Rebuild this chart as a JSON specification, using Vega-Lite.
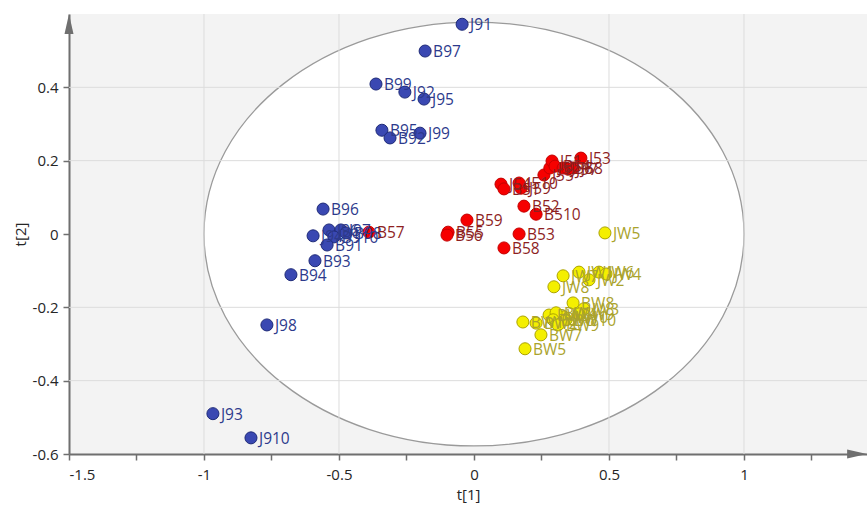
{
  "$schema": "https://vega.github.io/schema/vega-lite/v6.json",
  "width": 798,
  "height": 440,
  "autosize": "none",
  "padding": {"left": 69, "top": 14, "right": 0, "bottom": 51},
  "background": "white",
  "config": {
    "view": {"fill": "#f3f3f3", "stroke": null},
    "font": "Open Sans",
    "axis": {
      "grid": false,
      "domainColor": "#6f6f6f",
      "domainWidth": 2,
      "tickColor": "#6f6f6f",
      "tickWidth": 1.5,
      "tickSize": 6,
      "labelColor": "#262626",
      "labelFont": "Open Sans",
      "labelFontSize": 15,
      "titleFont": "Open Sans",
      "titleFontSize": 15,
      "titleFontWeight": "normal",
      "titleColor": "#262626"
    }
  },
  "datasets": {
    "scores": [
      {"name": "J91", "cls": "9", "t1": -0.044, "t2": 0.572},
      {"name": "B97", "cls": "9", "t1": -0.181, "t2": 0.499},
      {"name": "B99", "cls": "9", "t1": -0.363, "t2": 0.409},
      {"name": "J92", "cls": "9", "t1": -0.256, "t2": 0.387},
      {"name": "J95", "cls": "9", "t1": -0.185, "t2": 0.368},
      {"name": "B95", "cls": "9", "t1": -0.341, "t2": 0.283},
      {"name": "J99", "cls": "9", "t1": -0.2, "t2": 0.275},
      {"name": "B92", "cls": "9", "t1": -0.311, "t2": 0.262},
      {"name": "B96", "cls": "9", "t1": -0.559, "t2": 0.068},
      {"name": "J94", "cls": "9", "t1": -0.596, "t2": -0.005},
      {"name": "J96", "cls": "9", "t1": -0.537, "t2": 0.011},
      {"name": "J97", "cls": "9", "t1": -0.493, "t2": 0.011},
      {"name": "B910", "cls": "9", "t1": -0.519, "t2": -0.008},
      {"name": "B98", "cls": "9", "t1": -0.474, "t2": 0.003},
      {"name": "B91", "cls": "9", "t1": -0.544, "t2": -0.03},
      {"name": "B93", "cls": "9", "t1": -0.589, "t2": -0.073},
      {"name": "B94", "cls": "9", "t1": -0.678, "t2": -0.111},
      {"name": "J98", "cls": "9", "t1": -0.767, "t2": -0.248},
      {"name": "J93", "cls": "9", "t1": -0.967, "t2": -0.49},
      {"name": "J910", "cls": "9", "t1": -0.826, "t2": -0.556},
      {"name": "B57", "cls": "5", "t1": -0.389, "t2": 0.005},
      {"name": "B59", "cls": "5", "t1": -0.026, "t2": 0.038},
      {"name": "B55", "cls": "5", "t1": -0.096, "t2": 0.005},
      {"name": "B56", "cls": "5", "t1": -0.1, "t2": -0.003},
      {"name": "B53", "cls": "5", "t1": 0.167, "t2": 0.0},
      {"name": "B58", "cls": "5", "t1": 0.111, "t2": -0.038},
      {"name": "B52", "cls": "5", "t1": 0.185, "t2": 0.076},
      {"name": "B510", "cls": "5", "t1": 0.23, "t2": 0.054},
      {"name": "J54", "cls": "5", "t1": 0.1, "t2": 0.136},
      {"name": "B51", "cls": "5", "t1": 0.111, "t2": 0.123},
      {"name": "J59", "cls": "5", "t1": 0.174, "t2": 0.125},
      {"name": "J510", "cls": "5", "t1": 0.167, "t2": 0.139},
      {"name": "J55", "cls": "5", "t1": 0.259, "t2": 0.161},
      {"name": "J52", "cls": "5", "t1": 0.281, "t2": 0.18},
      {"name": "J51", "cls": "5", "t1": 0.289, "t2": 0.199},
      {"name": "B54", "cls": "5", "t1": 0.3, "t2": 0.185},
      {"name": "J56", "cls": "5", "t1": 0.33, "t2": 0.18},
      {"name": "J57", "cls": "5", "t1": 0.348, "t2": 0.177},
      {"name": "J58", "cls": "5", "t1": 0.367, "t2": 0.18},
      {"name": "J53", "cls": "5", "t1": 0.396, "t2": 0.207},
      {"name": "JW5", "cls": "W", "t1": 0.485, "t2": 0.003},
      {"name": "JW7", "cls": "W", "t1": 0.33, "t2": -0.114},
      {"name": "JW1", "cls": "W", "t1": 0.389, "t2": -0.104},
      {"name": "JW2", "cls": "W", "t1": 0.426, "t2": -0.125},
      {"name": "JW6", "cls": "W", "t1": 0.463, "t2": -0.104},
      {"name": "JW4", "cls": "W", "t1": 0.489, "t2": -0.109},
      {"name": "JW8", "cls": "W", "t1": 0.296, "t2": -0.144},
      {"name": "BW8", "cls": "W", "t1": 0.367, "t2": -0.188},
      {"name": "JW3", "cls": "W", "t1": 0.407, "t2": -0.204},
      {"name": "JW9", "cls": "W", "t1": 0.389, "t2": -0.218},
      {"name": "JW10", "cls": "W", "t1": 0.333, "t2": -0.226},
      {"name": "BW1", "cls": "W", "t1": 0.181, "t2": -0.24},
      {"name": "BW2", "cls": "W", "t1": 0.23, "t2": -0.243},
      {"name": "BW3", "cls": "W", "t1": 0.278, "t2": -0.221},
      {"name": "BW4", "cls": "W", "t1": 0.304, "t2": -0.215},
      {"name": "BW6", "cls": "W", "t1": 0.293, "t2": -0.234},
      {"name": "BW10", "cls": "W", "t1": 0.341, "t2": -0.234},
      {"name": "BW9", "cls": "W", "t1": 0.311, "t2": -0.248},
      {"name": "BW7", "cls": "W", "t1": 0.248, "t2": -0.275},
      {"name": "BW5", "cls": "W", "t1": 0.189, "t2": -0.313}
    ]
  },
  "layer": [
    {
      "description": "Hotelling T2 confidence ellipse centred on the origin, white inside the grey plot area",
      "data": {"values": [{"cx": 0, "cy": 0}]},
      "mark": {
        "type": "point",
        "shape": "M-1,0C-1,-0.4335,-0.5523,-0.785,0,-0.785C0.5523,-0.785,1,-0.4335,1,0C1,0.4335,0.5523,0.785,0,0.785C-0.5523,0.785,-1,0.4335,-1,0Z",
        "size": 291600,
        "filled": false,
        "fill": "white",
        "fillOpacity": 1,
        "stroke": "#9a9a9a",
        "strokeWidth": 1.3,
        "opacity": 1
      },
      "encoding": {
        "x": {"field": "cx", "type": "quantitative"},
        "y": {"field": "cy", "type": "quantitative"}
      }
    },
    {
      "description": "vertical grid lines",
      "data": {"values": [{"g": -1}, {"g": -0.5}, {"g": 0.5}, {"g": 1}]},
      "mark": {"type": "rule", "color": "#dcdcdc", "strokeWidth": 1},
      "encoding": {"x": {"field": "g", "type": "quantitative"}}
    },
    {
      "description": "horizontal grid lines",
      "data": {"values": [{"g": 0.4}, {"g": 0.2}, {"g": -0.2}, {"g": -0.4}]},
      "mark": {"type": "rule", "color": "#dcdcdc", "strokeWidth": 1},
      "encoding": {"y": {"field": "g", "type": "quantitative"}}
    },
    {
      "mark": {"type": "rule", "color": "#7d7d7d", "strokeWidth": 1.5},
      "encoding": {"x": {"datum": 0, "type": "quantitative"}}
    },
    {
      "mark": {"type": "rule", "color": "#7d7d7d", "strokeWidth": 1.5},
      "encoding": {"y": {"datum": 0, "type": "quantitative"}}
    },
    {
      "data": {"name": "scores"},
      "mark": {"type": "point", "shape": "circle", "filled": true, "size": 145, "strokeWidth": 1, "opacity": 1},
      "encoding": {
        "x": {
          "field": "t1",
          "type": "quantitative",
          "scale": {"domain": [-1.5, 1.4556], "nice": false, "zero": false},
          "axis": {
            "title": "t[1]",
            "values": [-1.5, -1.25, -1, -0.75, -0.5, -0.25, 0, 0.25, 0.5, 0.75, 1, 1.25],
            "labelExpr": "round(datum.value * 4) % 2 == 0 ? '' + datum.value : ''",
            "labelPadding": 7,
            "titlePadding": 5
          }
        },
        "y": {
          "field": "t2",
          "type": "quantitative",
          "scale": {"domain": [-0.6, 0.6], "nice": false, "zero": false},
          "axis": {
            "title": "t[2]",
            "values": [-0.6, -0.5, -0.4, -0.3, -0.2, -0.1, 0, 0.1, 0.2, 0.3, 0.4, 0.5],
            "labelExpr": "round(datum.value * 10) % 2 == 0 ? '' + datum.value : ''",
            "labelPadding": 5,
            "titlePadding": 4
          }
        },
        "fill": {
          "field": "cls",
          "type": "nominal",
          "scale": {"domain": ["9", "5", "W"], "range": ["#3a48b2", "#f60000", "#f4ef00"]},
          "legend": null
        },
        "stroke": {
          "field": "cls",
          "type": "nominal",
          "scale": {"domain": ["9", "5", "W"], "range": ["#1e2a78", "#c40000", "#aca400"]},
          "legend": null
        }
      }
    },
    {
      "data": {"name": "scores"},
      "mark": {"type": "text", "align": "left", "baseline": "middle", "dx": 8, "dy": 1, "fontSize": 15.5, "font": "Open Sans"},
      "encoding": {
        "x": {"field": "t1", "type": "quantitative"},
        "y": {"field": "t2", "type": "quantitative"},
        "text": {"field": "name"},
        "color": {
          "field": "cls",
          "type": "nominal",
          "scale": {"domain": ["9", "5", "W"], "range": ["#2d3a8c", "#8e1f1f", "#aaa32c"]},
          "legend": null
        }
      }
    },
    {
      "description": "arrow heads at the ends of the t[2] and t[1] axes",
      "data": {"values": [
        {"ax": -1.5, "ay": 0.573, "dir": "up"},
        {"ax": 1.419, "ay": -0.6, "dir": "right"}
      ]},
      "mark": {"type": "point", "filled": true, "size": 400, "opacity": 1, "strokeWidth": 0},
      "encoding": {
        "x": {"field": "ax", "type": "quantitative"},
        "y": {"field": "ay", "type": "quantitative"},
        "shape": {
          "field": "dir",
          "type": "nominal",
          "scale": {"domain": ["up", "right"], "range": ["M0,-1L0.45,1L-0.45,1Z", "M1,0L-1,0.45L-1,-0.45Z"]},
          "legend": null
        },
        "color": {"value": "#6f6f6f"}
      }
    }
  ]
}
